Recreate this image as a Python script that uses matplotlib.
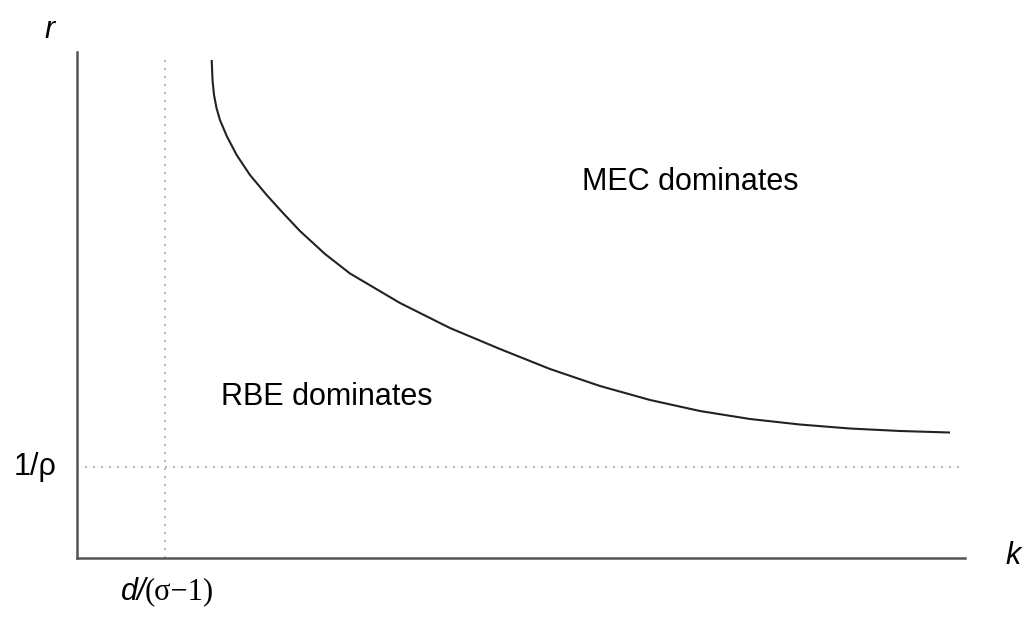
import matplotlib
matplotlib.use("Agg")
import matplotlib.pyplot as plt

# boundary curve r(k) between the two regimes (axis units 0..10)
k_curve = [1.517, 1.526, 1.543, 1.571, 1.610, 1.686, 1.798, 1.948, 2.136,
           2.320, 2.511, 2.793, 3.074, 3.637, 4.200, 4.764, 5.327, 5.890,
           6.453, 7.016, 7.579, 8.142, 8.705, 9.268, 9.831]
r_curve = [9.842, 9.447, 9.150, 8.893, 8.656, 8.340, 7.964, 7.569, 7.174,
           6.818, 6.462, 6.008, 5.623, 5.040, 4.545, 4.130, 3.735, 3.399,
           3.123, 2.905, 2.747, 2.638, 2.559, 2.510, 2.480]

k_min = 0.99   # d/(sigma-1)
r_min = 1.80   # 1/rho

SANS = "Liberation Sans"
SERIF = "Liberation Serif"
AXIS = "#555555"
DOT = "#999999"

fig = plt.figure(figsize=(10.29, 6.17), dpi=100)
ax = fig.add_axes([77 / 1029, 59 / 617, 888 / 1029, 506 / 617])
ax.set_xlim(0, 10)
ax.set_ylim(0, 10)

ax.plot(k_curve, r_curve, color="#222222", lw=1.5,
        solid_capstyle="butt", solid_joinstyle="round")
ax.plot([k_min, k_min], [0, 9.88], color=DOT, lw=1.2, ls=(0, (1, 3.8)))
ax.plot([0, 9.94], [r_min, r_min], color=DOT, lw=1.2, ls=(0, (1, 3.8)))

for s in ["top", "right"]:
    ax.spines[s].set_visible(False)
for s in ["left", "bottom"]:
    ax.spines[s].set_color(AXIS)
    ax.spines[s].set_linewidth(1.8)
ax.set_xticks([])
ax.set_yticks([])

fs = 22
fig.text(50 / 1029, 1 - 30 / 617, "r", fontsize=fs, style="italic",
         family=SANS, ha="center", va="center")
fig.text(1013 / 1029, 1 - 556 / 617, "k", fontsize=fs, style="italic",
         family=SANS, ha="center", va="center")
fig.text(35 / 1029, 1 - 467 / 617, "1/ρ", fontsize=fs, family=SANS,
         ha="center", va="center")
fig.text(146 / 1029, 1 - 592 / 617, "d/", fontsize=fs, style="italic",
         family=SANS, ha="right", va="center")
fig.text(145 / 1029, 1 - 592 / 617, "(σ−1)", fontsize=fs, family=SERIF,
         ha="left", va="center")

fig.text(690 / 1029, 1 - 182 / 617, "MEC dominates", fontsize=fs,
         family=SANS, ha="center", va="center")
fig.text(327 / 1029, 1 - 397 / 617, "RBE dominates", fontsize=fs,
         family=SANS, ha="center", va="center")

fig.savefig("out.png", dpi=100, facecolor="white")
